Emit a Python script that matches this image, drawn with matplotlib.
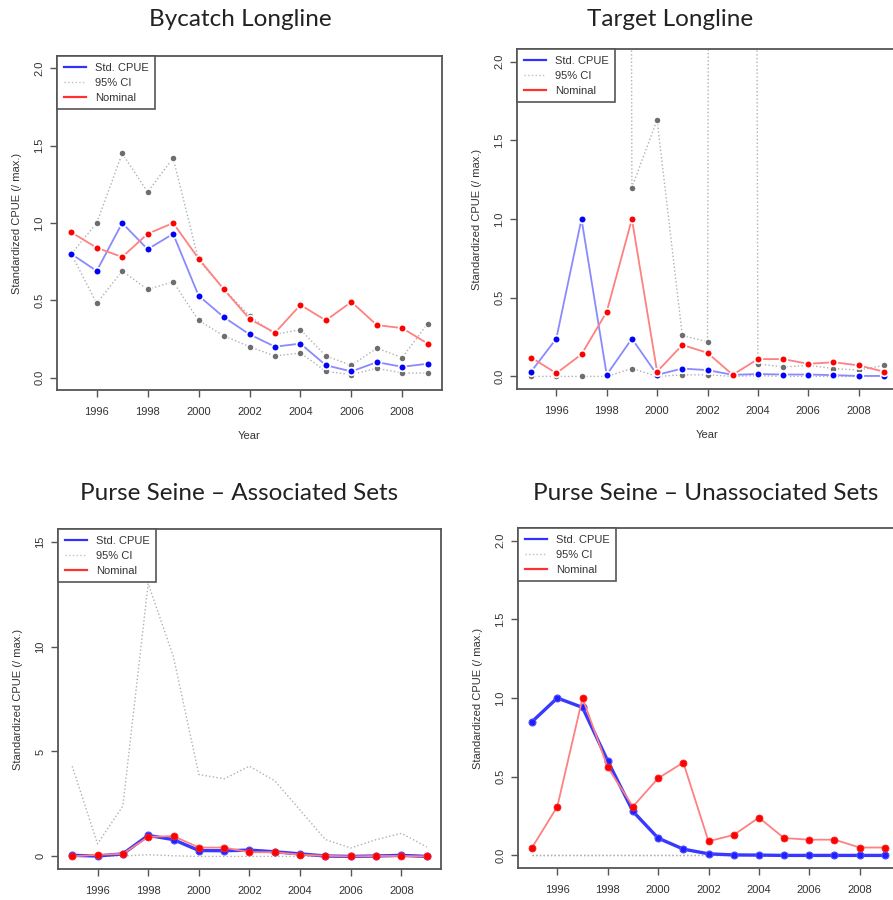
import matplotlib
matplotlib.use("Agg")
import matplotlib.pyplot as plt
from matplotlib.lines import Line2D

plt.rcParams["font.family"] = ["Liberation Sans", "DejaVu Sans"]

years = list(range(1995, 2010))

# Bycatch longline
bycatch_std = [0.80, 0.69, 1.00, 0.83, 0.93, 0.53, 0.39, 0.28, 0.20, 0.22, 0.08, 0.04, 0.10, 0.07, 0.09]
bycatch_lo = [0.80, 0.48, 0.69, 0.57, 0.62, 0.37, 0.27, 0.20, 0.14, 0.16, 0.04, 0.02, 0.06, 0.03, 0.03]
bycatch_hi = [0.80, 1.00, 1.45, 1.20, 1.42, 0.76, 0.57, 0.40, 0.28, 0.31, 0.14, 0.08, 0.19, 0.13, 0.35]
bycatch_nom = [0.94, 0.84, 0.78, 0.93, 1.00, 0.77, 0.57, 0.38, 0.29, 0.47, 0.37, 0.49, 0.34, 0.32, 0.22]

# Target longline (upper CI goes far off the scale in some years)
target_std = [0.03, 0.24, 1.00, 0.01, 0.24, 0.01, 0.05, 0.04, 0.01, 0.015, 0.012, 0.012, 0.008, 0.003, 0.003]
target_lo = [0.0, 0.0, 0.0, 0.0, 0.05, 0.0, 0.01, 0.01, 0.0, 0.005, 0.0, 0.0, 0.0, 0.0, 0.0]
target_hi = [40.0, 45.0, 50.0, 60.0, 1.20, 1.63, 0.26, 0.22, 60.0, 0.08, 0.06, 0.07, 0.05, 0.04, 0.07]
target_nom = [0.12, 0.02, 0.14, 0.41, 1.00, 0.03, 0.20, 0.15, 0.01, 0.11, 0.11, 0.08, 0.09, 0.07, 0.03]

# Purse seine, associated sets
assoc_std = [0.05, 0.02, 0.12, 1.00, 0.80, 0.28, 0.27, 0.30, 0.22, 0.12, 0.02, 0.0, 0.02, 0.05, 0.0]
assoc_lo = [0.0, 0.0, 0.02, 0.08, 0.03, 0.0, 0.0, 0.0, 0.0, 0.0, 0.0, 0.0, 0.0, 0.0, 0.0]
assoc_hi = [4.3, 0.6, 2.4, 13.0, 9.5, 3.9, 3.7, 4.3, 3.6, 2.2, 0.8, 0.4, 0.8, 1.1, 0.45]
assoc_nom = [0.0, 0.08, 0.12, 0.93, 0.97, 0.42, 0.42, 0.20, 0.20, 0.08, 0.03, 0.0, 0.02, 0.02, 0.0]

# Purse seine, unassociated sets
unassoc_std = [0.85, 1.00, 0.94, 0.60, 0.28, 0.11, 0.04, 0.01, 0.003, 0.002, 0.0, 0.0, 0.0, 0.0, 0.0]
unassoc_lo = [0.0] * 15
unassoc_hi = [0.005] * 15
unassoc_nom = [0.05, 0.31, 1.00, 0.56, 0.31, 0.49, 0.59, 0.09, 0.13, 0.24, 0.11, 0.10, 0.10, 0.05, 0.05]

titles = ["Bycatch Longline", "Target Longline",
          "Purse Seine \u2013 Associated Sets", "Purse Seine \u2013 Unassociated Sets"]

W, H = 893, 900
fig = plt.figure(figsize=(W / 100, H / 100), dpi=100)

axcol = "#555555"
txtcol = "#333333"


def px_rect(left, top, right, bottom):
    return [left / W, 1 - bottom / H, (right - left) / W, (bottom - top) / H]


def panel(rect, std, lo, hi, nom, ymax, yticks, ylabels, ci_pts, heavy, xlab):
    ax = fig.add_axes(rect)
    ax.plot(years, hi, ls=":", color="#b0b0b0", lw=1.0)
    ax.plot(years, lo, ls=":", color="#b0b0b0", lw=1.0)
    if ci_pts:
        ax.plot(years, hi, "o", ls="none", color="#6e6e6e", ms=5, mec="white", mew=1.0)
        ax.plot(years, lo, "o", ls="none", color="#6e6e6e", ms=5, mec="white", mew=1.0)
    if heavy:
        ax.plot(years, std, "-o", color="#3838ff", lw=2.4, ms=5, mfc="#2020ff", mec="#5050ff", mew=0.8)
        ax.plot(years, nom, "-o", color="#ff8080", lw=1.3, ms=5, mfc="#ff0000", mec="#ff2020", mew=0.6)
    else:
        ax.plot(years, std, "-o", color="#8a8aff", lw=1.3, ms=5.5, mfc="#0000ff", mec="white", mew=1.2)
        ax.plot(years, nom, "-o", color="#ff8080", lw=1.3, ms=5.5, mfc="#ff0000", mec="white", mew=1.2)

    ax.set_xlim(1994.44, 2009.56)
    ax.set_ylim(-0.04 * ymax, 1.04 * ymax)
    ax.set_xticks(range(1996, 2009, 2))
    ax.set_yticks(yticks)
    ax.set_yticklabels(ylabels, rotation=90, va="center")
    ax.tick_params(colors=axcol, labelcolor=txtcol, labelsize=8, length=5, width=1)
    ax.tick_params(axis="x", pad=7)
    ax.tick_params(axis="y", pad=4)
    for s in ax.spines.values():
        s.set_color(axcol)
        s.set_linewidth(1.3)
    ax.set_ylabel("Standardized CPUE (/ max.)", fontsize=8, color=txtcol, labelpad=9)
    if xlab:
        ax.set_xlabel("Year", fontsize=8, color=txtcol, labelpad=10)

    handles = [Line2D([], [], color="#3030ff", lw=1.6),
               Line2D([], [], color="#c0c0c0", lw=1.0, ls=":"),
               Line2D([], [], color="#ff3030", lw=1.6)]
    leg = ax.legend(handles, ["Std. CPUE", "95% CI", "Nominal"], loc="upper left",
                    fontsize=8, frameon=True, fancybox=False, framealpha=1,
                    edgecolor=axcol, borderaxespad=0, handlelength=2.0,
                    handletextpad=0.8, labelspacing=0.45, borderpad=0.6)
    leg.get_frame().set_linewidth(1.2)
    for t in leg.get_texts():
        t.set_color(txtcol)
    return ax


yt2 = [0.0, 0.5, 1.0, 1.5, 2.0]
yl2 = ["0.0", "0.5", "1.0", "1.5", "2.0"]

panel(px_rect(57, 56, 442, 390), bycatch_std, bycatch_lo, bycatch_hi, bycatch_nom,
      2.0, yt2, yl2, True, False, True)
panel(px_rect(517, 49, 898, 389), target_std, target_lo, target_hi, target_nom,
      2.0, yt2, yl2, True, False, True)
panel(px_rect(58, 529, 441, 869), assoc_std, assoc_lo, assoc_hi, assoc_nom,
      15.0, [0, 5, 10, 15], ["0", "5", "10", "15"], False, True, False)
panel(px_rect(518, 528, 899, 868), unassoc_std, unassoc_lo, unassoc_hi, unassoc_nom,
      2.0, yt2, yl2, False, True, False)

title_pos = [(240, 20), (670, 20), (239, 493), (706, 493)]
for t, (x, y) in zip(titles, title_pos):
    fig.text(x / W, 1 - y / H, t, ha="center", va="center", fontsize=17.5,
             family="Lato", color="#222222")

fig.savefig("out.png", dpi=100)
